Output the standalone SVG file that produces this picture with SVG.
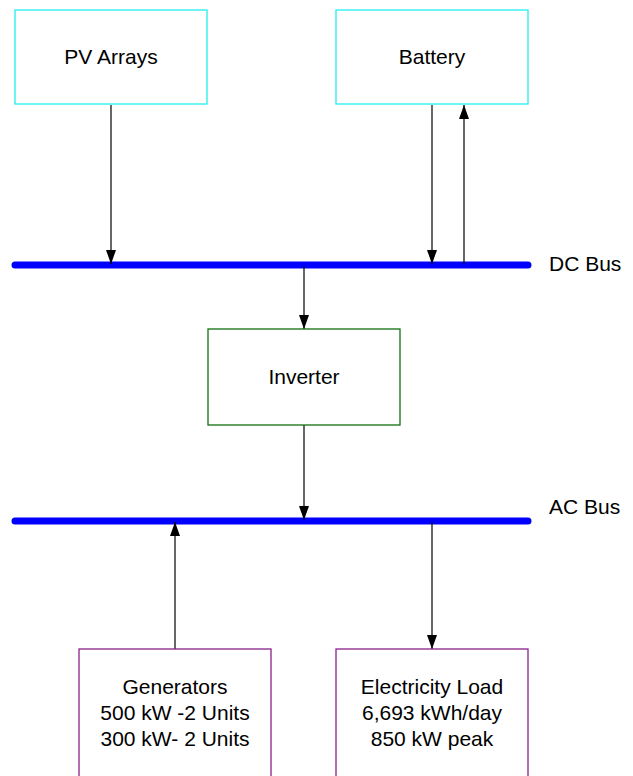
<svg xmlns="http://www.w3.org/2000/svg" width="633" height="776" viewBox="0 0 633 776">
<style>
text{font-family:"Liberation Sans",Arial,sans-serif;font-size:21px;fill:#000;text-anchor:middle}
.box{fill:#fff;stroke-width:1.3}
.c{stroke:#000;stroke-width:1.2;fill:none}
.bus{stroke:#0000ff;stroke-width:7;stroke-linecap:round}
</style>
<defs>
<marker id="ah" viewBox="0 0 14 10" refX="14" refY="5" markerWidth="14" markerHeight="10" markerUnits="userSpaceOnUse" orient="auto">
<path d="M0,0 L14,5 L0,10 Z" fill="#000"/>
</marker>
</defs>
<g id="dcbus"><line class="bus" x1="15" y1="265" x2="528" y2="265"/><text x="549" y="271" style="text-anchor:start">DC Bus</text></g>
<g id="acbus"><line class="bus" x1="15" y1="521" x2="528" y2="521"/><text x="549" y="514" style="text-anchor:start">AC Bus</text></g>
<g id="connectors">
<line class="c" x1="111" y1="105" x2="111" y2="264" marker-end="url(#ah)"/>
<line class="c" x1="432" y1="105" x2="432" y2="264" marker-end="url(#ah)"/>
<line class="c" x1="464" y1="264" x2="464" y2="105" marker-end="url(#ah)"/>
<line class="c" stroke="#333" x1="304" y1="266" x2="304" y2="329" marker-end="url(#ah)"/>
<line class="c" stroke="#333" x1="304" y1="425" x2="304" y2="520" marker-end="url(#ah)"/>
<line class="c" x1="175" y1="649" x2="175" y2="522" marker-end="url(#ah)"/>
<line class="c" x1="432" y1="522" x2="432" y2="649" marker-end="url(#ah)"/>
</g>
<g id="pv"><rect class="box" x="15" y="10" width="192" height="94" stroke="#22eeee"/><text x="111" y="64">PV Arrays</text></g>
<g id="battery"><rect class="box" x="336" y="10" width="192" height="94" stroke="#22eeee"/><text x="432" y="64">Battery</text></g>
<g id="inverter"><rect class="box" x="208" y="329" width="192" height="96" stroke="#107010"/><text x="304" y="384">Inverter</text></g>
<g id="generators"><rect class="box" x="79" y="649" width="192" height="140" stroke="#882288"/><text x="175" y="694">Generators</text><text x="175" y="720">500 kW -2 Units</text><text x="175" y="746">300 kW- 2 Units</text></g>
<g id="load"><rect class="box" x="336" y="649" width="192" height="140" stroke="#882288"/><text x="432" y="694">Electricity Load</text><text x="432" y="720">6,693 kWh/day</text><text x="432" y="746">850 kW peak</text></g>
</svg>
